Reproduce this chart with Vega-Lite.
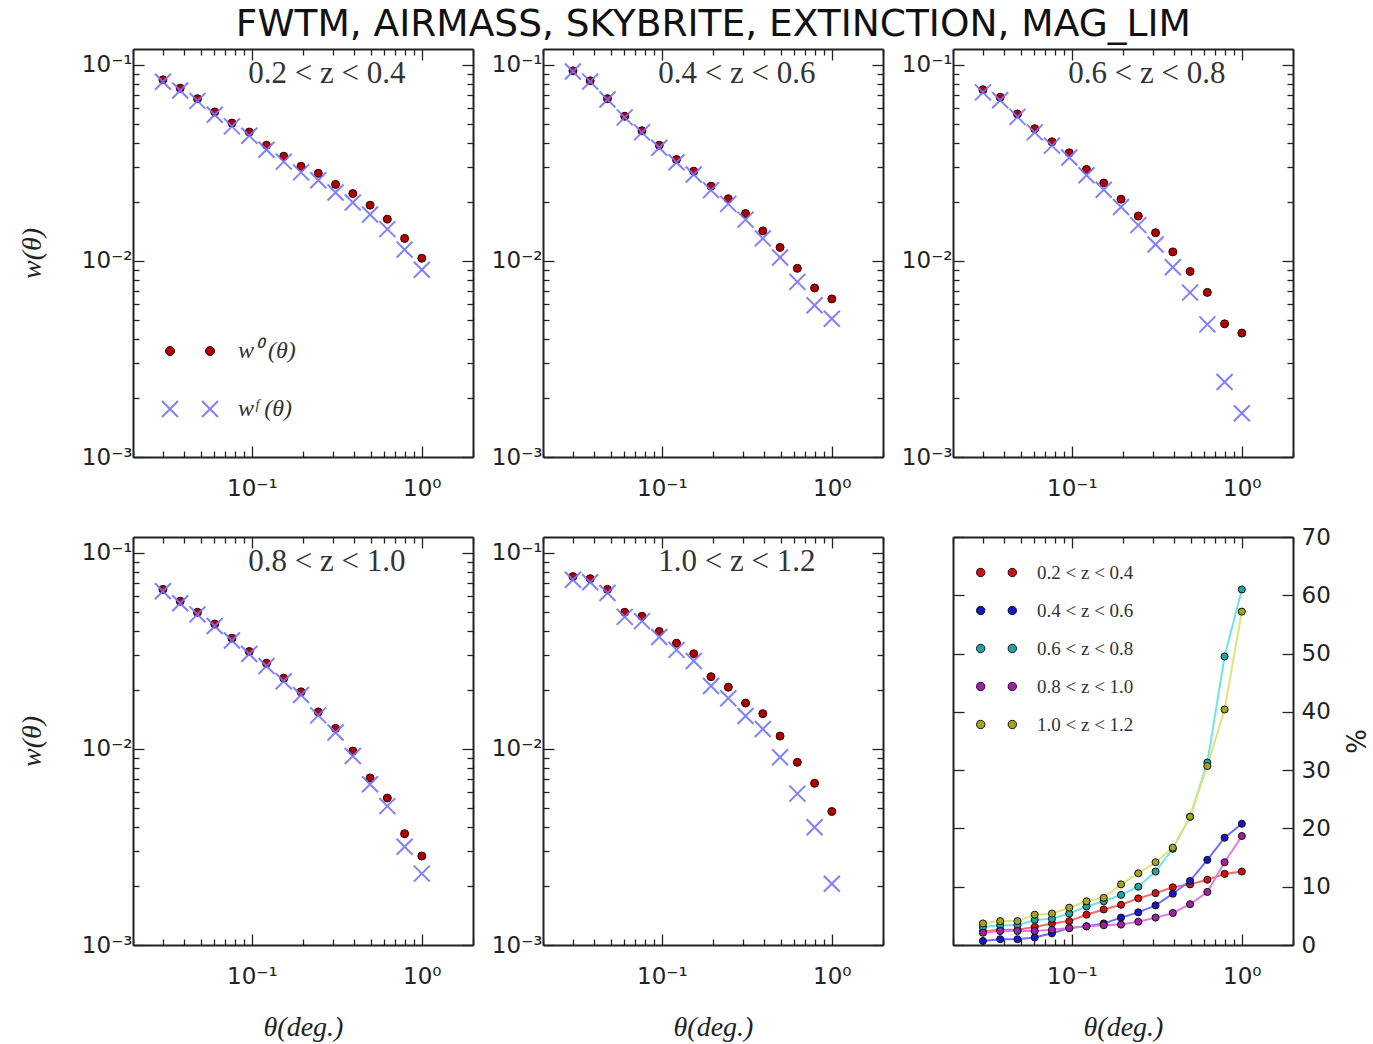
{
"$schema": "https://vega.github.io/schema/vega-lite/v6.json",
"background": "white",
"padding": {"left": 18, "top": 5, "right": 2, "bottom": 2},
"title": {"text": "FWTM, AIRMASS, SKYBRITE, EXTINCTION, MAG_LIM", "font": "DejaVu Sans", "fontSize": 37.5, "fontWeight": "normal", "color": "#111", "anchor": "middle", "offset": 5, "dx": 19},
"datasets": {
"w": [
{"bin":"0.2 < z < 0.4","theta":0.0300,"w0":0.0836,"wf":0.0817},
{"bin":"0.2 < z < 0.4","theta":0.0379,"w0":0.0758,"wf":0.0738},
{"bin":"0.2 < z < 0.4","theta":0.0479,"w0":0.0670,"wf":0.0653},
{"bin":"0.2 < z < 0.4","theta":0.0605,"w0":0.0573,"wf":0.0555},
{"bin":"0.2 < z < 0.4","theta":0.0764,"w0":0.0503,"wf":0.0484},
{"bin":"0.2 < z < 0.4","theta":0.0966,"w0":0.0453,"wf":0.0434},
{"bin":"0.2 < z < 0.4","theta":0.1220,"w0":0.0388,"wf":0.0368},
{"bin":"0.2 < z < 0.4","theta":0.1541,"w0":0.0341,"wf":0.0320},
{"bin":"0.2 < z < 0.4","theta":0.1947,"w0":0.0303,"wf":0.0282},
{"bin":"0.2 < z < 0.4","theta":0.2460,"w0":0.0279,"wf":0.0257},
{"bin":"0.2 < z < 0.4","theta":0.3108,"w0":0.0245,"wf":0.0223},
{"bin":"0.2 < z < 0.4","theta":0.3927,"w0":0.0220,"wf":0.0198},
{"bin":"0.2 < z < 0.4","theta":0.4961,"w0":0.0192,"wf":0.0172},
{"bin":"0.2 < z < 0.4","theta":0.6268,"w0":0.0163,"wf":0.0145},
{"bin":"0.2 < z < 0.4","theta":0.7919,"w0":0.0130,"wf":0.0114},
{"bin":"0.2 < z < 0.4","theta":1.0000,"w0":0.0103,"wf":0.0090},
{"bin":"0.4 < z < 0.6","theta":0.0300,"w0":0.0929,"wf":0.0922},
{"bin":"0.4 < z < 0.6","theta":0.0379,"w0":0.0826,"wf":0.0818},
{"bin":"0.4 < z < 0.6","theta":0.0479,"w0":0.0670,"wf":0.0663},
{"bin":"0.4 < z < 0.6","theta":0.0605,"w0":0.0545,"wf":0.0538},
{"bin":"0.4 < z < 0.6","theta":0.0764,"w0":0.0460,"wf":0.0451},
{"bin":"0.4 < z < 0.6","theta":0.0966,"w0":0.0388,"wf":0.0377},
{"bin":"0.4 < z < 0.6","theta":0.1220,"w0":0.0328,"wf":0.0318},
{"bin":"0.4 < z < 0.6","theta":0.1541,"w0":0.0286,"wf":0.0275},
{"bin":"0.4 < z < 0.6","theta":0.1947,"w0":0.0240,"wf":0.0229},
{"bin":"0.4 < z < 0.6","theta":0.2460,"w0":0.0207,"wf":0.0195},
{"bin":"0.4 < z < 0.6","theta":0.3108,"w0":0.0174,"wf":0.0162},
{"bin":"0.4 < z < 0.6","theta":0.3927,"w0":0.0142,"wf":0.0130},
{"bin":"0.4 < z < 0.6","theta":0.4961,"w0":0.0117,"wf":0.0104},
{"bin":"0.4 < z < 0.6","theta":0.6268,"w0":0.00915,"wf":0.00781},
{"bin":"0.4 < z < 0.6","theta":0.7919,"w0":0.00727,"wf":0.00593},
{"bin":"0.4 < z < 0.6","theta":1.0000,"w0":0.00639,"wf":0.00506},
{"bin":"0.6 < z < 0.8","theta":0.0300,"w0":0.0744,"wf":0.0721},
{"bin":"0.6 < z < 0.8","theta":0.0379,"w0":0.0681,"wf":0.0658},
{"bin":"0.6 < z < 0.8","theta":0.0479,"w0":0.0560,"wf":0.0541},
{"bin":"0.6 < z < 0.8","theta":0.0605,"w0":0.0471,"wf":0.0451},
{"bin":"0.6 < z < 0.8","theta":0.0764,"w0":0.0404,"wf":0.0386},
{"bin":"0.6 < z < 0.8","theta":0.0966,"w0":0.0355,"wf":0.0336},
{"bin":"0.6 < z < 0.8","theta":0.1220,"w0":0.0292,"wf":0.0273},
{"bin":"0.6 < z < 0.8","theta":0.1541,"w0":0.0249,"wf":0.0230},
{"bin":"0.6 < z < 0.8","theta":0.1947,"w0":0.0206,"wf":0.0188},
{"bin":"0.6 < z < 0.8","theta":0.2460,"w0":0.0169,"wf":0.0152},
{"bin":"0.6 < z < 0.8","theta":0.3108,"w0":0.0139,"wf":0.0121},
{"bin":"0.6 < z < 0.8","theta":0.3927,"w0":0.0111,"wf":0.00927},
{"bin":"0.6 < z < 0.8","theta":0.4961,"w0":0.00882,"wf":0.00688},
{"bin":"0.6 < z < 0.8","theta":0.6268,"w0":0.00690,"wf":0.00474},
{"bin":"0.6 < z < 0.8","theta":0.7919,"w0":0.00477,"wf":0.00241},
{"bin":"0.6 < z < 0.8","theta":1.0000,"w0":0.00428,"wf":0.00167},
{"bin":"0.8 < z < 1.0","theta":0.0300,"w0":0.0649,"wf":0.0635},
{"bin":"0.8 < z < 1.0","theta":0.0379,"w0":0.0565,"wf":0.0551},
{"bin":"0.8 < z < 1.0","theta":0.0479,"w0":0.0496,"wf":0.0484},
{"bin":"0.8 < z < 1.0","theta":0.0605,"w0":0.0432,"wf":0.0422},
{"bin":"0.8 < z < 1.0","theta":0.0764,"w0":0.0366,"wf":0.0356},
{"bin":"0.8 < z < 1.0","theta":0.0966,"w0":0.0313,"wf":0.0304},
{"bin":"0.8 < z < 1.0","theta":0.1220,"w0":0.0273,"wf":0.0264},
{"bin":"0.8 < z < 1.0","theta":0.1541,"w0":0.0229,"wf":0.0221},
{"bin":"0.8 < z < 1.0","theta":0.1947,"w0":0.0195,"wf":0.0188},
{"bin":"0.8 < z < 1.0","theta":0.2460,"w0":0.0154,"wf":0.0148},
{"bin":"0.8 < z < 1.0","theta":0.3108,"w0":0.0127,"wf":0.0121},
{"bin":"0.8 < z < 1.0","theta":0.3927,"w0":0.00973,"wf":0.00919},
{"bin":"0.8 < z < 1.0","theta":0.4961,"w0":0.00710,"wf":0.00660},
{"bin":"0.8 < z < 1.0","theta":0.6268,"w0":0.00561,"wf":0.00510},
{"bin":"0.8 < z < 1.0","theta":0.7919,"w0":0.00369,"wf":0.00317},
{"bin":"0.8 < z < 1.0","theta":1.0000,"w0":0.00284,"wf":0.00231},
{"bin":"1.0 < z < 1.2","theta":0.0300,"w0":0.0754,"wf":0.0726},
{"bin":"1.0 < z < 1.2","theta":0.0379,"w0":0.0736,"wf":0.0706},
{"bin":"1.0 < z < 1.2","theta":0.0479,"w0":0.0649,"wf":0.0622},
{"bin":"1.0 < z < 1.2","theta":0.0605,"w0":0.0496,"wf":0.0470},
{"bin":"1.0 < z < 1.2","theta":0.0764,"w0":0.0473,"wf":0.0447},
{"bin":"1.0 < z < 1.2","theta":0.0966,"w0":0.0396,"wf":0.0371},
{"bin":"1.0 < z < 1.2","theta":0.1220,"w0":0.0345,"wf":0.0319},
{"bin":"1.0 < z < 1.2","theta":0.1541,"w0":0.0305,"wf":0.0280},
{"bin":"1.0 < z < 1.2","theta":0.1947,"w0":0.0233,"wf":0.0209},
{"bin":"1.0 < z < 1.2","theta":0.2460,"w0":0.0206,"wf":0.0181},
{"bin":"1.0 < z < 1.2","theta":0.3108,"w0":0.0171,"wf":0.0147},
{"bin":"1.0 < z < 1.2","theta":0.3927,"w0":0.0151,"wf":0.0126},
{"bin":"1.0 < z < 1.2","theta":0.4961,"w0":0.0116,"wf":0.00905},
{"bin":"1.0 < z < 1.2","theta":0.6268,"w0":0.00853,"wf":0.00591},
{"bin":"1.0 < z < 1.2","theta":0.7919,"w0":0.00667,"wf":0.00398},
{"bin":"1.0 < z < 1.2","theta":1.0000,"w0":0.00479,"wf":0.00205}
],
"pct": [
{"bin":"0.2 < z < 0.4","theta":0.0300,"pct":2.3},{"bin":"0.2 < z < 0.4","theta":0.0379,"pct":2.6},{"bin":"0.2 < z < 0.4","theta":0.0479,"pct":2.6},{"bin":"0.2 < z < 0.4","theta":0.0605,"pct":3.1},
{"bin":"0.2 < z < 0.4","theta":0.0764,"pct":3.7},{"bin":"0.2 < z < 0.4","theta":0.0966,"pct":4.1},{"bin":"0.2 < z < 0.4","theta":0.1220,"pct":5.2},{"bin":"0.2 < z < 0.4","theta":0.1541,"pct":6.1},
{"bin":"0.2 < z < 0.4","theta":0.1947,"pct":6.9},{"bin":"0.2 < z < 0.4","theta":0.2460,"pct":8.0},{"bin":"0.2 < z < 0.4","theta":0.3108,"pct":8.9},{"bin":"0.2 < z < 0.4","theta":0.3927,"pct":9.9},
{"bin":"0.2 < z < 0.4","theta":0.4961,"pct":10.4},{"bin":"0.2 < z < 0.4","theta":0.6268,"pct":11.2},{"bin":"0.2 < z < 0.4","theta":0.7919,"pct":12.2},{"bin":"0.2 < z < 0.4","theta":1.0000,"pct":12.6},
{"bin":"0.4 < z < 0.6","theta":0.0300,"pct":0.7},{"bin":"0.4 < z < 0.6","theta":0.0379,"pct":1.0},{"bin":"0.4 < z < 0.6","theta":0.0479,"pct":1.0},{"bin":"0.4 < z < 0.6","theta":0.0605,"pct":1.3},
{"bin":"0.4 < z < 0.6","theta":0.0764,"pct":2.0},{"bin":"0.4 < z < 0.6","theta":0.0966,"pct":2.9},{"bin":"0.4 < z < 0.6","theta":0.1220,"pct":3.2},{"bin":"0.4 < z < 0.6","theta":0.1541,"pct":3.7},
{"bin":"0.4 < z < 0.6","theta":0.1947,"pct":4.7},{"bin":"0.4 < z < 0.6","theta":0.2460,"pct":5.6},{"bin":"0.4 < z < 0.6","theta":0.3108,"pct":6.8},{"bin":"0.4 < z < 0.6","theta":0.3927,"pct":8.8},
{"bin":"0.4 < z < 0.6","theta":0.4961,"pct":11.0},{"bin":"0.4 < z < 0.6","theta":0.6268,"pct":14.6},{"bin":"0.4 < z < 0.6","theta":0.7919,"pct":18.4},{"bin":"0.4 < z < 0.6","theta":1.0000,"pct":20.8},
{"bin":"0.6 < z < 0.8","theta":0.0300,"pct":3.1},{"bin":"0.6 < z < 0.8","theta":0.0379,"pct":3.4},{"bin":"0.6 < z < 0.8","theta":0.0479,"pct":3.4},{"bin":"0.6 < z < 0.8","theta":0.0605,"pct":4.3},
{"bin":"0.6 < z < 0.8","theta":0.0764,"pct":4.5},{"bin":"0.6 < z < 0.8","theta":0.0966,"pct":5.4},{"bin":"0.6 < z < 0.8","theta":0.1220,"pct":6.6},{"bin":"0.6 < z < 0.8","theta":0.1541,"pct":7.5},
{"bin":"0.6 < z < 0.8","theta":0.1947,"pct":8.6},{"bin":"0.6 < z < 0.8","theta":0.2460,"pct":10.0},{"bin":"0.6 < z < 0.8","theta":0.3108,"pct":12.6},{"bin":"0.6 < z < 0.8","theta":0.3927,"pct":16.5},
{"bin":"0.6 < z < 0.8","theta":0.4961,"pct":22.0},{"bin":"0.6 < z < 0.8","theta":0.6268,"pct":31.3},{"bin":"0.6 < z < 0.8","theta":0.7919,"pct":49.5},{"bin":"0.6 < z < 0.8","theta":1.0000,"pct":61.0},
{"bin":"0.8 < z < 1.0","theta":0.0300,"pct":2.1},{"bin":"0.8 < z < 1.0","theta":0.0379,"pct":2.4},{"bin":"0.8 < z < 1.0","theta":0.0479,"pct":2.4},{"bin":"0.8 < z < 1.0","theta":0.0605,"pct":2.4},
{"bin":"0.8 < z < 1.0","theta":0.0764,"pct":2.6},{"bin":"0.8 < z < 1.0","theta":0.0966,"pct":2.9},{"bin":"0.8 < z < 1.0","theta":0.1220,"pct":3.2},{"bin":"0.8 < z < 1.0","theta":0.1541,"pct":3.4},
{"bin":"0.8 < z < 1.0","theta":0.1947,"pct":3.5},{"bin":"0.8 < z < 1.0","theta":0.2460,"pct":4.0},{"bin":"0.8 < z < 1.0","theta":0.3108,"pct":4.7},{"bin":"0.8 < z < 1.0","theta":0.3927,"pct":5.5},
{"bin":"0.8 < z < 1.0","theta":0.4961,"pct":7.0},{"bin":"0.8 < z < 1.0","theta":0.6268,"pct":9.1},{"bin":"0.8 < z < 1.0","theta":0.7919,"pct":14.2},{"bin":"0.8 < z < 1.0","theta":1.0000,"pct":18.7},
{"bin":"1.0 < z < 1.2","theta":0.0300,"pct":3.7},{"bin":"1.0 < z < 1.2","theta":0.0379,"pct":4.1},{"bin":"1.0 < z < 1.2","theta":0.0479,"pct":4.1},{"bin":"1.0 < z < 1.2","theta":0.0605,"pct":5.2},
{"bin":"1.0 < z < 1.2","theta":0.0764,"pct":5.4},{"bin":"1.0 < z < 1.2","theta":0.0966,"pct":6.4},{"bin":"1.0 < z < 1.2","theta":0.1220,"pct":7.5},{"bin":"1.0 < z < 1.2","theta":0.1541,"pct":8.1},
{"bin":"1.0 < z < 1.2","theta":0.1947,"pct":10.4},{"bin":"1.0 < z < 1.2","theta":0.2460,"pct":12.3},{"bin":"1.0 < z < 1.2","theta":0.3108,"pct":14.2},{"bin":"1.0 < z < 1.2","theta":0.3927,"pct":16.7},
{"bin":"1.0 < z < 1.2","theta":0.4961,"pct":22.0},{"bin":"1.0 < z < 1.2","theta":0.6268,"pct":30.7},{"bin":"1.0 < z < 1.2","theta":0.7919,"pct":40.4},{"bin":"1.0 < z < 1.2","theta":1.0000,"pct":57.2}
]
},
"spacing": 21,
"resolve": {"scale": {"fill": "independent", "color": "independent", "stroke": "independent"}},
"vconcat": [
{"hconcat": [
{"width": 340, "height": 408, "data": {"name": "w"}, "transform": [{"filter": "datum.bin == '0.2 < z < 0.4'"}],
 "layer": [
  {"mark": {"type": "point", "shape": "circle", "filled": true, "size": 64, "stroke": "#2a0000", "strokeWidth": 1, "opacity": 1},
   "encoding": {
    "x": {"field": "theta", "type": "quantitative", "scale": {"type": "log", "domain": [0.02, 2], "nice": false}, "axis": {"orient": "bottom", "title": null, "values": [0.02,0.03,0.04,0.05,0.06,0.07,0.08,0.09,0.1,0.2,0.3,0.4,0.5,0.6,0.7,0.8,0.9,1,2], "labelExpr": "datum.value == 0.1 ? '10⁻¹' : datum.value == 1 ? '10⁰' : ''", "tickSize": {"condition": {"test": "datum.value == 0.1 || datum.value == 1", "value": -11}, "value": -6}, "labelPadding": 31, "labelFlush": false, "labelOverlap": false}},
    "y": {"field": "w0", "type": "quantitative", "scale": {"type": "log", "domain": [0.001, 0.12], "nice": false}, "axis": {"orient": "left", "title": "w(θ)", "titlePadding": 35, "values": [0.001,0.002,0.003,0.004,0.005,0.006,0.007,0.008,0.009,0.01,0.02,0.03,0.04,0.05,0.06,0.07,0.08,0.09,0.1], "labelExpr": "datum.value == 0.1 ? '10⁻¹' : datum.value == 0.01 ? '10⁻²' : datum.value == 0.001 ? '10⁻³' : ''", "tickSize": {"condition": {"test": "datum.value == 0.1 || datum.value == 0.01 || datum.value == 0.001", "value": -11}, "value": -6}, "labelPadding": 12, "labelOverlap": false}},
    "fill": {"datum": "w⁰ (θ)", "type": "nominal", "scale": {"domain": ["w⁰ (θ)"], "range": ["#b00000"]},
      "legend": {"orient": "none", "legendX": 45, "legendY": 290, "title": null, "padding": 0, "symbolSize": 400, "symbolType": "M-2.45,0a0.45,0.45 0 1,0 0.9,0a0.45,0.45 0 1,0 -0.9,0M1.55,0a0.45,0.45 0 1,0 0.9,0a0.45,0.45 0 1,0 -0.9,0", "symbolStrokeColor": "#2a0000", "symbolStrokeWidth": 1, "symbolOpacity": 1, "labelFont": "Liberation Serif", "labelFontStyle": "italic", "labelFontSize": 24, "labelColor": "#333", "labelOffset": 36}}
   }},
  {"mark": {"type": "point", "shape": "M-1,-1L1,1M-1,1L1,-1", "filled": false, "size": 256, "strokeWidth": 2, "opacity": 0.9},
   "encoding": {
    "x": {"field": "theta", "type": "quantitative", "axis": {"orient": "top", "title": null, "labels": false, "values": [0.02,0.03,0.04,0.05,0.06,0.07,0.08,0.09,0.1,0.2,0.3,0.4,0.5,0.6,0.7,0.8,0.9,1,2], "tickSize": {"condition": {"test": "datum.value == 0.1 || datum.value == 1", "value": -11}, "value": -6}}},
    "y": {"field": "wf", "type": "quantitative", "axis": {"orient": "right", "title": null, "labels": false, "values": [0.001,0.002,0.003,0.004,0.005,0.006,0.007,0.008,0.009,0.01,0.02,0.03,0.04,0.05,0.06,0.07,0.08,0.09,0.1], "tickSize": {"condition": {"test": "datum.value == 0.1 || datum.value == 0.01 || datum.value == 0.001", "value": -11}, "value": -6}}},
    "stroke": {"datum": "wᶠ (θ)", "type": "nominal", "scale": {"domain": ["wᶠ (θ)"], "range": ["#7373ff"]},
      "legend": {"orient": "none", "legendX": 45, "legendY": 348, "title": null, "padding": 0, "symbolSize": 400, "symbolType": "M-2.8,-0.8L-1.2,0.8M-2.8,0.8L-1.2,-0.8M1.2,-0.8L2.8,0.8M1.2,0.8L2.8,-0.8", "symbolStrokeWidth": 2, "symbolFillColor": "transparent", "symbolOpacity": 0.9, "labelFont": "Liberation Serif", "labelFontStyle": "italic", "labelFontSize": 24, "labelColor": "#333", "labelOffset": 36}}
   }},
  {"transform": [{"filter": "datum.theta == 1"}],
   "mark": {"type": "text", "font": "Liberation Serif", "fontSize": 31, "color": "#333", "baseline": "middle"},
   "encoding": {"x": {"datum": 0.276, "type": "quantitative", "axis": null}, "y": {"datum": 0.089, "type": "quantitative", "axis": null}, "text": {"field": "bin"}}}
 ],
 "resolve": {"axis": {"x": "independent", "y": "independent"}}},
{"width": 340, "height": 408, "data": {"name": "w"}, "transform": [{"filter": "datum.bin == '0.4 < z < 0.6'"}],
 "layer": [
  {"mark": {"type": "point", "shape": "circle", "filled": true, "size": 64, "fill": "#b00000", "stroke": "#2a0000", "strokeWidth": 1, "opacity": 1},
   "encoding": {
    "x": {"field": "theta", "type": "quantitative", "scale": {"type": "log", "domain": [0.02, 2], "nice": false}, "axis": {"orient": "bottom", "title": null, "values": [0.02,0.03,0.04,0.05,0.06,0.07,0.08,0.09,0.1,0.2,0.3,0.4,0.5,0.6,0.7,0.8,0.9,1,2], "labelExpr": "datum.value == 0.1 ? '10⁻¹' : datum.value == 1 ? '10⁰' : ''", "tickSize": {"condition": {"test": "datum.value == 0.1 || datum.value == 1", "value": -11}, "value": -6}, "labelPadding": 31, "labelFlush": false, "labelOverlap": false}},
    "y": {"field": "w0", "type": "quantitative", "scale": {"type": "log", "domain": [0.001, 0.12], "nice": false}, "axis": {"orient": "left", "title": null, "values": [0.001,0.002,0.003,0.004,0.005,0.006,0.007,0.008,0.009,0.01,0.02,0.03,0.04,0.05,0.06,0.07,0.08,0.09,0.1], "labelExpr": "datum.value == 0.1 ? '10⁻¹' : datum.value == 0.01 ? '10⁻²' : datum.value == 0.001 ? '10⁻³' : ''", "tickSize": {"condition": {"test": "datum.value == 0.1 || datum.value == 0.01 || datum.value == 0.001", "value": -11}, "value": -6}, "labelPadding": 12, "labelOverlap": false}}
   }},
  {"mark": {"type": "point", "shape": "M-1,-1L1,1M-1,1L1,-1", "filled": false, "size": 256, "stroke": "#7373ff", "strokeWidth": 2, "opacity": 0.9},
   "encoding": {
    "x": {"field": "theta", "type": "quantitative", "axis": {"orient": "top", "title": null, "labels": false, "values": [0.02,0.03,0.04,0.05,0.06,0.07,0.08,0.09,0.1,0.2,0.3,0.4,0.5,0.6,0.7,0.8,0.9,1,2], "tickSize": {"condition": {"test": "datum.value == 0.1 || datum.value == 1", "value": -11}, "value": -6}}},
    "y": {"field": "wf", "type": "quantitative", "axis": {"orient": "right", "title": null, "labels": false, "values": [0.001,0.002,0.003,0.004,0.005,0.006,0.007,0.008,0.009,0.01,0.02,0.03,0.04,0.05,0.06,0.07,0.08,0.09,0.1], "tickSize": {"condition": {"test": "datum.value == 0.1 || datum.value == 0.01 || datum.value == 0.001", "value": -11}, "value": -6}}}
   }},
  {"transform": [{"filter": "datum.theta == 1"}],
   "mark": {"type": "text", "font": "Liberation Serif", "fontSize": 31, "color": "#333", "baseline": "middle"},
   "encoding": {"x": {"datum": 0.276, "type": "quantitative", "axis": null}, "y": {"datum": 0.089, "type": "quantitative", "axis": null}, "text": {"field": "bin"}}}
 ],
 "resolve": {"axis": {"x": "independent", "y": "independent"}}},
{"width": 340, "height": 408, "data": {"name": "w"}, "transform": [{"filter": "datum.bin == '0.6 < z < 0.8'"}],
 "layer": [
  {"mark": {"type": "point", "shape": "circle", "filled": true, "size": 64, "fill": "#b00000", "stroke": "#2a0000", "strokeWidth": 1, "opacity": 1},
   "encoding": {
    "x": {"field": "theta", "type": "quantitative", "scale": {"type": "log", "domain": [0.02, 2], "nice": false}, "axis": {"orient": "bottom", "title": null, "values": [0.02,0.03,0.04,0.05,0.06,0.07,0.08,0.09,0.1,0.2,0.3,0.4,0.5,0.6,0.7,0.8,0.9,1,2], "labelExpr": "datum.value == 0.1 ? '10⁻¹' : datum.value == 1 ? '10⁰' : ''", "tickSize": {"condition": {"test": "datum.value == 0.1 || datum.value == 1", "value": -11}, "value": -6}, "labelPadding": 31, "labelFlush": false, "labelOverlap": false}},
    "y": {"field": "w0", "type": "quantitative", "scale": {"type": "log", "domain": [0.001, 0.12], "nice": false}, "axis": {"orient": "left", "title": null, "values": [0.001,0.002,0.003,0.004,0.005,0.006,0.007,0.008,0.009,0.01,0.02,0.03,0.04,0.05,0.06,0.07,0.08,0.09,0.1], "labelExpr": "datum.value == 0.1 ? '10⁻¹' : datum.value == 0.01 ? '10⁻²' : datum.value == 0.001 ? '10⁻³' : ''", "tickSize": {"condition": {"test": "datum.value == 0.1 || datum.value == 0.01 || datum.value == 0.001", "value": -11}, "value": -6}, "labelPadding": 12, "labelOverlap": false}}
   }},
  {"mark": {"type": "point", "shape": "M-1,-1L1,1M-1,1L1,-1", "filled": false, "size": 256, "stroke": "#7373ff", "strokeWidth": 2, "opacity": 0.9},
   "encoding": {
    "x": {"field": "theta", "type": "quantitative", "axis": {"orient": "top", "title": null, "labels": false, "values": [0.02,0.03,0.04,0.05,0.06,0.07,0.08,0.09,0.1,0.2,0.3,0.4,0.5,0.6,0.7,0.8,0.9,1,2], "tickSize": {"condition": {"test": "datum.value == 0.1 || datum.value == 1", "value": -11}, "value": -6}}},
    "y": {"field": "wf", "type": "quantitative", "axis": {"orient": "right", "title": null, "labels": false, "values": [0.001,0.002,0.003,0.004,0.005,0.006,0.007,0.008,0.009,0.01,0.02,0.03,0.04,0.05,0.06,0.07,0.08,0.09,0.1], "tickSize": {"condition": {"test": "datum.value == 0.1 || datum.value == 0.01 || datum.value == 0.001", "value": -11}, "value": -6}}}
   }},
  {"transform": [{"filter": "datum.theta == 1"}],
   "mark": {"type": "text", "font": "Liberation Serif", "fontSize": 31, "color": "#333", "baseline": "middle"},
   "encoding": {"x": {"datum": 0.276, "type": "quantitative", "axis": null}, "y": {"datum": 0.089, "type": "quantitative", "axis": null}, "text": {"field": "bin"}}}
 ],
 "resolve": {"axis": {"x": "independent", "y": "independent"}}}
], "spacing": 70, "bounds": "flush", "resolve": {"scale": {"fill": "independent", "color": "independent", "stroke": "independent"}}},
{"hconcat": [
{"width": 340, "height": 408, "data": {"name": "w"}, "transform": [{"filter": "datum.bin == '0.8 < z < 1.0'"}],
 "layer": [
  {"mark": {"type": "point", "shape": "circle", "filled": true, "size": 64, "fill": "#b00000", "stroke": "#2a0000", "strokeWidth": 1, "opacity": 1},
   "encoding": {
    "x": {"field": "theta", "type": "quantitative", "scale": {"type": "log", "domain": [0.02, 2], "nice": false}, "axis": {"orient": "bottom", "title": "θ(deg.)", "titlePadding": 20, "values": [0.02,0.03,0.04,0.05,0.06,0.07,0.08,0.09,0.1,0.2,0.3,0.4,0.5,0.6,0.7,0.8,0.9,1,2], "labelExpr": "datum.value == 0.1 ? '10⁻¹' : datum.value == 1 ? '10⁰' : ''", "tickSize": {"condition": {"test": "datum.value == 0.1 || datum.value == 1", "value": -11}, "value": -6}, "labelPadding": 31, "labelFlush": false, "labelOverlap": false}},
    "y": {"field": "w0", "type": "quantitative", "scale": {"type": "log", "domain": [0.001, 0.12], "nice": false}, "axis": {"orient": "left", "title": "w(θ)", "titlePadding": 35, "values": [0.001,0.002,0.003,0.004,0.005,0.006,0.007,0.008,0.009,0.01,0.02,0.03,0.04,0.05,0.06,0.07,0.08,0.09,0.1], "labelExpr": "datum.value == 0.1 ? '10⁻¹' : datum.value == 0.01 ? '10⁻²' : datum.value == 0.001 ? '10⁻³' : ''", "tickSize": {"condition": {"test": "datum.value == 0.1 || datum.value == 0.01 || datum.value == 0.001", "value": -11}, "value": -6}, "labelPadding": 12, "labelOverlap": false}}
   }},
  {"mark": {"type": "point", "shape": "M-1,-1L1,1M-1,1L1,-1", "filled": false, "size": 256, "stroke": "#7373ff", "strokeWidth": 2, "opacity": 0.9},
   "encoding": {
    "x": {"field": "theta", "type": "quantitative", "axis": {"orient": "top", "title": null, "labels": false, "values": [0.02,0.03,0.04,0.05,0.06,0.07,0.08,0.09,0.1,0.2,0.3,0.4,0.5,0.6,0.7,0.8,0.9,1,2], "tickSize": {"condition": {"test": "datum.value == 0.1 || datum.value == 1", "value": -11}, "value": -6}}},
    "y": {"field": "wf", "type": "quantitative", "axis": {"orient": "right", "title": null, "labels": false, "values": [0.001,0.002,0.003,0.004,0.005,0.006,0.007,0.008,0.009,0.01,0.02,0.03,0.04,0.05,0.06,0.07,0.08,0.09,0.1], "tickSize": {"condition": {"test": "datum.value == 0.1 || datum.value == 0.01 || datum.value == 0.001", "value": -11}, "value": -6}}}
   }},
  {"transform": [{"filter": "datum.theta == 1"}],
   "mark": {"type": "text", "font": "Liberation Serif", "fontSize": 31, "color": "#333", "baseline": "middle"},
   "encoding": {"x": {"datum": 0.276, "type": "quantitative", "axis": null}, "y": {"datum": 0.089, "type": "quantitative", "axis": null}, "text": {"field": "bin"}}}
 ],
 "resolve": {"axis": {"x": "independent", "y": "independent"}}},
{"width": 340, "height": 408, "data": {"name": "w"}, "transform": [{"filter": "datum.bin == '1.0 < z < 1.2'"}],
 "layer": [
  {"mark": {"type": "point", "shape": "circle", "filled": true, "size": 64, "fill": "#b00000", "stroke": "#2a0000", "strokeWidth": 1, "opacity": 1},
   "encoding": {
    "x": {"field": "theta", "type": "quantitative", "scale": {"type": "log", "domain": [0.02, 2], "nice": false}, "axis": {"orient": "bottom", "title": "θ(deg.)", "titlePadding": 20, "values": [0.02,0.03,0.04,0.05,0.06,0.07,0.08,0.09,0.1,0.2,0.3,0.4,0.5,0.6,0.7,0.8,0.9,1,2], "labelExpr": "datum.value == 0.1 ? '10⁻¹' : datum.value == 1 ? '10⁰' : ''", "tickSize": {"condition": {"test": "datum.value == 0.1 || datum.value == 1", "value": -11}, "value": -6}, "labelPadding": 31, "labelFlush": false, "labelOverlap": false}},
    "y": {"field": "w0", "type": "quantitative", "scale": {"type": "log", "domain": [0.001, 0.12], "nice": false}, "axis": {"orient": "left", "title": null, "values": [0.001,0.002,0.003,0.004,0.005,0.006,0.007,0.008,0.009,0.01,0.02,0.03,0.04,0.05,0.06,0.07,0.08,0.09,0.1], "labelExpr": "datum.value == 0.1 ? '10⁻¹' : datum.value == 0.01 ? '10⁻²' : datum.value == 0.001 ? '10⁻³' : ''", "tickSize": {"condition": {"test": "datum.value == 0.1 || datum.value == 0.01 || datum.value == 0.001", "value": -11}, "value": -6}, "labelPadding": 12, "labelOverlap": false}}
   }},
  {"mark": {"type": "point", "shape": "M-1,-1L1,1M-1,1L1,-1", "filled": false, "size": 256, "stroke": "#7373ff", "strokeWidth": 2, "opacity": 0.9},
   "encoding": {
    "x": {"field": "theta", "type": "quantitative", "axis": {"orient": "top", "title": null, "labels": false, "values": [0.02,0.03,0.04,0.05,0.06,0.07,0.08,0.09,0.1,0.2,0.3,0.4,0.5,0.6,0.7,0.8,0.9,1,2], "tickSize": {"condition": {"test": "datum.value == 0.1 || datum.value == 1", "value": -11}, "value": -6}}},
    "y": {"field": "wf", "type": "quantitative", "axis": {"orient": "right", "title": null, "labels": false, "values": [0.001,0.002,0.003,0.004,0.005,0.006,0.007,0.008,0.009,0.01,0.02,0.03,0.04,0.05,0.06,0.07,0.08,0.09,0.1], "tickSize": {"condition": {"test": "datum.value == 0.1 || datum.value == 0.01 || datum.value == 0.001", "value": -11}, "value": -6}}}
   }},
  {"transform": [{"filter": "datum.theta == 1"}],
   "mark": {"type": "text", "font": "Liberation Serif", "fontSize": 31, "color": "#333", "baseline": "middle"},
   "encoding": {"x": {"datum": 0.276, "type": "quantitative", "axis": null}, "y": {"datum": 0.089, "type": "quantitative", "axis": null}, "text": {"field": "bin"}}}
 ],
 "resolve": {"axis": {"x": "independent", "y": "independent"}}},
{"width": 340, "height": 408, "data": {"name": "pct"},
 "layer": [
  {"mark": {"type": "line", "strokeWidth": 2, "opacity": 1},
   "encoding": {
    "x": {"field": "theta", "type": "quantitative", "scale": {"type": "log", "domain": [0.02, 2], "nice": false}, "axis": {"orient": "bottom", "title": "θ(deg.)", "titlePadding": 20, "values": [0.02,0.03,0.04,0.05,0.06,0.07,0.08,0.09,0.1,0.2,0.3,0.4,0.5,0.6,0.7,0.8,0.9,1,2], "labelExpr": "datum.value == 0.1 ? '10⁻¹' : datum.value == 1 ? '10⁰' : ''", "tickSize": {"condition": {"test": "datum.value == 0.1 || datum.value == 1", "value": -11}, "value": -6}, "labelPadding": 31, "labelFlush": false, "labelOverlap": false}},
    "y": {"field": "pct", "type": "quantitative", "scale": {"domain": [0, 70], "nice": false}, "axis": {"orient": "right", "title": "%", "titleFont": "DejaVu Sans", "titleFontStyle": "normal", "titleFontSize": 26, "titleAngle": -90, "titlePadding": 40, "values": [0,10,20,30,40,50,60,70], "tickSize": -11, "labelPadding": 19, "labelFlush": false, "labelOverlap": false}},
    "color": {"field": "bin", "type": "nominal", "scale": {"domain": ["0.2 < z < 0.4","0.4 < z < 0.6","0.6 < z < 0.8","0.8 < z < 1.0","1.0 < z < 1.2"], "range": ["#ff6666","#6e6eff","#70e4e4","#e07ae6","#e2e27a"]}, "legend": null}
   }},
  {"mark": {"type": "point", "shape": "circle", "filled": true, "size": 50, "stroke": "#111", "strokeWidth": 1, "opacity": 1},
   "encoding": {
    "x": {"field": "theta", "type": "quantitative", "axis": {"orient": "top", "title": null, "labels": false, "values": [0.02,0.03,0.04,0.05,0.06,0.07,0.08,0.09,0.1,0.2,0.3,0.4,0.5,0.6,0.7,0.8,0.9,1,2], "tickSize": {"condition": {"test": "datum.value == 0.1 || datum.value == 1", "value": -11}, "value": -6}}},
    "y": {"field": "pct", "type": "quantitative", "axis": {"orient": "left", "title": null, "values": [0,10,20,30,40,50,60,70], "labelExpr": "'10⁻¹'", "labelColor": "transparent", "tickSize": -11, "labelPadding": 12}},
    "fill": {"field": "bin", "type": "nominal", "scale": {"domain": ["0.2 < z < 0.4","0.4 < z < 0.6","0.6 < z < 0.8","0.8 < z < 1.0","1.0 < z < 1.2"], "range": ["#d01010","#1414c8","#22a4a4","#a020a8","#a4a41e"]},
      "legend": {"orient": "none", "legendX": 33, "legendY": 25, "title": null, "padding": 0, "symbolSize": 400, "symbolType": "M-2,0a0.42,0.42 0 1,0 0.84,0a0.42,0.42 0 1,0 -0.84,0M1.16,0a0.42,0.42 0 1,0 0.84,0a0.42,0.42 0 1,0 -0.84,0", "symbolStrokeColor": "#111", "symbolStrokeWidth": 1, "symbolOpacity": 1, "labelFont": "Liberation Serif", "labelFontSize": 19, "labelColor": "#333", "labelOffset": 30, "rowPadding": 17}}
   }}
 ],
 "resolve": {"axis": {"x": "independent", "y": "independent"}, "scale": {"color": "independent", "fill": "independent"}}}
], "spacing": 70, "bounds": "flush", "resolve": {"scale": {"fill": "independent", "color": "independent", "stroke": "independent"}}}
],
"config": {
 "view": {"stroke": null},
 "font": "DejaVu Sans",
 "axis": {"grid": false, "domainColor": "#222", "domainWidth": 2, "tickColor": "#222", "tickWidth": 1.3, "labelFont": "DejaVu Sans", "labelFontSize": 23, "labelColor": "#222", "titleFont": "Liberation Serif", "titleFontStyle": "italic", "titleFontWeight": "normal", "titleFontSize": 28, "titleColor": "#222"}
}
}
